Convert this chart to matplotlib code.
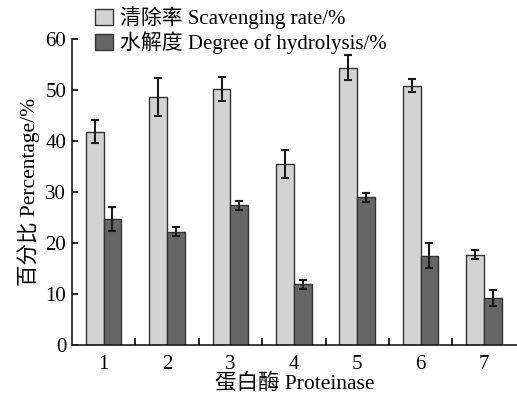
import matplotlib
matplotlib.use("Agg")
import matplotlib.pyplot as plt
import numpy as np
from matplotlib.patches import Patch

plt.rcParams['font.family'] = ['Liberation Serif', 'Noto Sans CJK SC']

categories = ['1', '2', '3', '4', '5', '6', '7']
scavenging = [41.8, 48.6, 50.2, 35.5, 54.3, 50.8, 17.7]
scavenging_err = [2.2, 3.8, 2.3, 2.7, 2.45, 1.3, 0.85]
hydrolysis = [24.6, 22.2, 27.4, 11.9, 28.9, 17.5, 9.2]
hydrolysis_err = [2.35, 0.9, 0.9, 0.85, 0.9, 2.4, 1.6]
series_labels = ['清除率 Scavenging rate/%', '水解度 Degree of hydrolysis/%']
ylabel = '百分比 Percentage/%'
xlabel = '蛋白酶 Proteinase'

fig = plt.figure(figsize=(5.17, 4.01), dpi=100)
ax = fig.add_axes([0.139, 0.14, 0.861, 0.763])

x = np.arange(1, len(categories) + 1)
w = 0.28
light = '#d3d3d3'
dark = '#666666'
edge = '#333333'
ax.bar(x - w / 2, scavenging, w, color=light, edgecolor=edge, linewidth=1.0,
       yerr=scavenging_err, error_kw=dict(ecolor='#1a1a1a', elinewidth=1.5, capsize=3.2, capthick=1.5))
ax.bar(x + w / 2, hydrolysis, w, color=dark, edgecolor=edge, linewidth=1.0,
       yerr=hydrolysis_err, error_kw=dict(ecolor='#1a1a1a', elinewidth=1.5, capsize=3.2, capthick=1.5))

ax.set_xlim(0.5, 7.52)
ax.set_ylim(0, 60)
ax.set_yticks([0, 10, 20, 30, 40, 50, 60])
ax.set_xticks(x)
ax.set_xticklabels(categories)
ax.set_xticks(np.arange(1.5, 7.5, 1), minor=True)
ax.tick_params(axis='x', which='major', length=0, labelsize=15, pad=7)
ax.tick_params(axis='x', which='minor', direction='in', length=5, width=1.2)
ax.tick_params(axis='y', direction='in', length=4, width=1.2, labelsize=15, pad=4)
for s in ['top', 'right']:
    ax.spines[s].set_visible(False)
for s in ['left', 'bottom']:
    ax.spines[s].set_linewidth(1.2)
    ax.spines[s].set_color('#1a1a1a')

ax.set_ylabel(ylabel, fontsize=15.5, labelpad=4)
ax.set_xlabel(xlabel, fontsize=15.5, labelpad=0)

handles = [Patch(facecolor=light, edgecolor=edge, linewidth=1.0),
           Patch(facecolor=dark, edgecolor=edge, linewidth=1.0)]
fig.legend(handles, series_labels, loc='upper left', bbox_to_anchor=(0.168, 1.005),
           frameon=False, fontsize=15, handlelength=0.85, handleheight=0.85,
           handletextpad=0.35, labelspacing=0.1, borderaxespad=0)

fig.savefig('out.png', dpi=100)
